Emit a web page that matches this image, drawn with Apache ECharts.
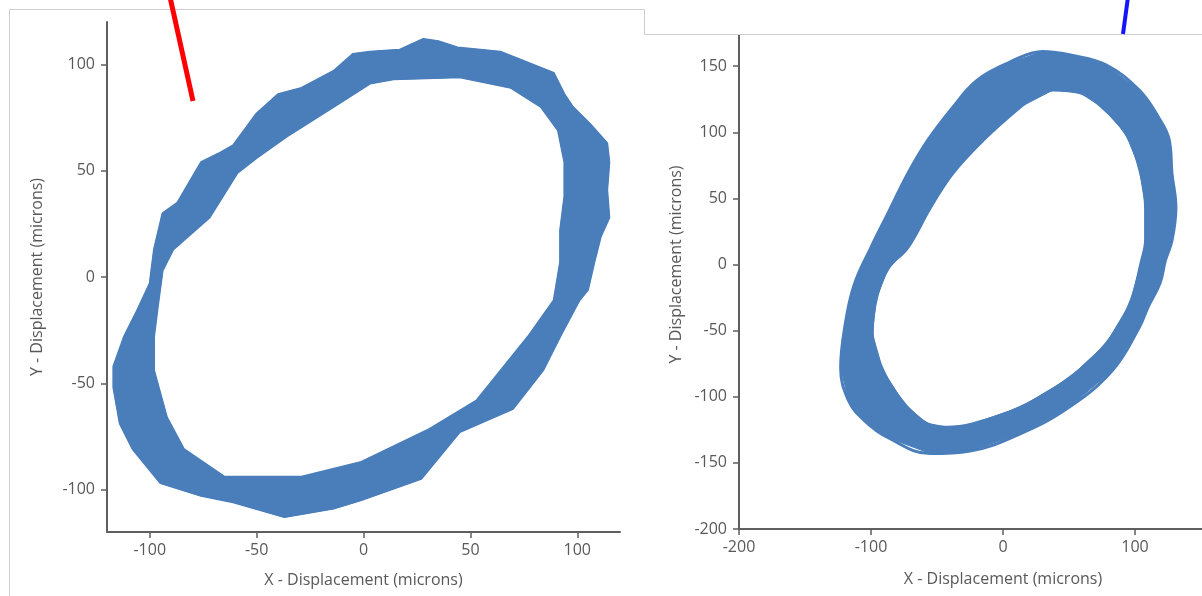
<!DOCTYPE html>
<html>
<head>
<meta charset="utf-8">
<script src="https://cdn.jsdelivr.net/npm/echarts@6/dist/echarts.min.js"></script>
<style>
html,body{margin:0;padding:0;background:#fff;}
#chart{width:1202px;height:596px;}
</style>
</head>
<body>
<div id="chart"></div>
<script>
// ---- Data (microns) ----
// Left orbit: outer and inner edges of the traced band
const leftOuter = [[3,106],[17,107],[28,112],[35,111],[44,108],[64,106],[79,100],[89,96],[94,86],[98,80],[106,72],[114,63],[115,54],[114,41],[115,28],[111,19],[108,7],[105,-6],[101,-11],[92,-28],[84,-44],[70,-62],[45,-73],[27,-95],[-1,-105],[-14,-109],[-37,-113],[-61,-106],[-76,-103],[-95,-97],[-108,-81],[-114,-69],[-117,-52],[-117,-42],[-112,-28],[-106,-16],[-100,-3],[-98,13],[-94,30],[-87,35],[-76,54],[-68,58],[-61,62],[-50,77],[-40,86],[-29,89],[-14,97],[-5,105]];
const leftInner = [[3,91],[14,93],[45,94],[69,89],[83,80],[91,69],[94,54],[94,38],[92,22],[92,7],[89,-11],[77,-28],[53,-58],[30,-72],[-1,-87],[-29,-94],[-65,-94],[-84,-81],[-92,-66],[-98,-44],[-98,-28],[-96,-12],[-94,3],[-89,13],[-72,28],[-59,49],[-50,56],[-36,66],[-14,80]];
// Right orbit: outer and inner edges of the traced band
const rightOuter = [[3,152],[30,161],[53,158],[78,151],[103,132],[118,111],[126,94],[128,69],[131,43],[128,18],[123,3],[119,-14],[110,-32],[103,-48],[83,-80],[50,-108],[13,-128],[-25,-141],[-55,-143],[-87,-131],[-105,-118],[-117,-103],[-123,-78],[-120,-48],[-113,-16],[-100,13],[-87,39],[-72,69],[-57,94],[-38,119],[-20,139]];
const rightInner = [[13,119],[38,132],[58,130],[75,119],[93,99],[103,74],[108,43],[108,18],[105,3],[96,-30],[78,-60],[50,-86],[13,-108],[-25,-121],[-42,-123],[-58,-120],[-75,-105],[-91,-80],[-99,-52],[-96,-26],[-87,-3],[-72,13],[-55,43],[-38,69],[-15,94]];
// Tick labels
const leftTicks = [-100, -50, 0, 50, 100];
const rightXTicks = [-200, -100, 0, 100, 200];
const rightYTicks = [-200, -150, -100, -50, 0, 50, 100, 150];

const BLUE = '#4a7ebb';
const AXIS = '#5f5f5f';
const TXT = '#595959';
const FONT = 'Open Sans';

function closeLoop(a){ return a.concat([a[0]]); }
function ring(outer, inner){
  return outer.concat([outer[0], inner[0]], inner.slice().reverse());
}
function ringSeries(ptsArr, xi, yi){
  return {
    type:'custom', xAxisIndex:xi, yAxisIndex:yi, data: ptsArr, clip:true, silent:true,
    renderItem: function(params, api){
      if (params.dataIndex !== 0) return null;
      const pts = ptsArr.map(p => api.coord(p));
      return {type:'polygon', shape:{points:pts}, style:{fill:BLUE, stroke:BLUE, lineWidth:1}};
    }
  };
}
function loopSeries(pts, xi, yi, w, smooth){
  return {type:'line', xAxisIndex:xi, yAxisIndex:yi, data: closeLoop(pts), showSymbol:false, symbol:'none',
    smooth: smooth || false,
    lineStyle:{color:BLUE, width:w}, silent:true, z:3};
}
function axisCommon(){
  return {
    axisLine:{show:true, onZero:false, lineStyle:{color:AXIS, width:2}},
    splitLine:{show:false},
    nameLocation:'middle',
    nameTextStyle:{color:TXT, fontSize:16, fontFamily:FONT}
  };
}
function tick(vals){ return {show:true, length:6, customValues:vals, lineStyle:{color:AXIS, width:1.5}}; }
function lab(vals, m){ return {customValues:vals, color:TXT, fontSize:16, fontFamily:FONT, margin:m}; }

const chart = echarts.init(document.getElementById('chart'), null, {renderer:'canvas'});
const option = {
  animation:false,
  backgroundColor:'#ffffff',
  grid:[
    {left:107, top:22, width:513, height:510, outerBoundsMode:'none', containLabel:false},
    {left:739, top:0, width:528, height:529, outerBoundsMode:'none', containLabel:false}
  ],
  xAxis:[
    Object.assign(axisCommon(), {type:'value', gridIndex:0, min:-120, max:120,
      name:'X - Displacement (microns)', nameGap:40, axisTick:tick(leftTicks), axisLabel:lab(leftTicks,10)}),
    Object.assign(axisCommon(), {type:'value', gridIndex:1, min:-200, max:200,
      name:'X - Displacement (microns)', nameGap:42, axisTick:tick(rightXTicks), axisLabel:lab(rightXTicks,10)})
  ],
  yAxis:[
    Object.assign(axisCommon(), {type:'value', gridIndex:0, min:-120, max:120,
      name:'Y - Displacement (microns)', nameGap:62, axisTick:tick(leftTicks), axisLabel:lab(leftTicks,12)}),
    Object.assign(axisCommon(), {type:'value', gridIndex:1, min:-200, max:200,
      name:'Y - Displacement (microns)', nameGap:55, axisTick:tick(rightYTicks), axisLabel:lab(rightYTicks,12)})
  ],
  series:[
    ringSeries(ring(leftOuter, leftInner), 0, 0),
    loopSeries(leftOuter, 0, 0, 2),
    loopSeries(leftInner, 0, 0, 2),
    ringSeries(ring(rightOuter, rightInner), 1, 1),
    loopSeries(rightOuter, 1, 1, 3, 0.4),
    loopSeries(rightInner, 1, 1, 3, 0.4)
  ],
  graphic:[
    {type:'rect', z:100, shape:{x:645, y:0, width:560, height:34}, style:{fill:'#ffffff'}},
    {type:'polyline', z:101, shape:{points:[[9.5,600],[9.5,9.5],[644.5,9.5],[644.5,34.5],[1205,34.5]]},
      style:{stroke:'#cfcfcf', lineWidth:1, fill:null}},
    {type:'line', z:102, shape:{x1:170, y1:-3, x2:193, y2:101}, style:{stroke:'#ff0000', lineWidth:5}},
    {type:'line', z:102, shape:{x1:1128, y1:-3, x2:1123, y2:34}, style:{stroke:'#1414ff', lineWidth:4}}
  ]
};
chart.setOption(option);
</script>
</body>
</html>
